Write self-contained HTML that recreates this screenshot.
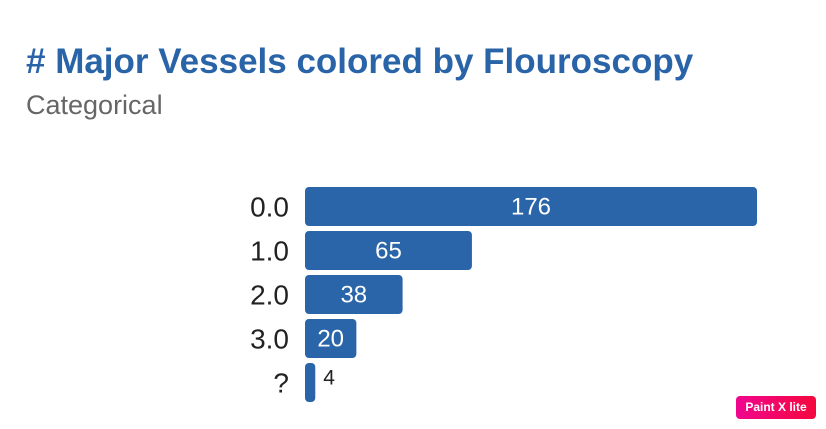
<!DOCTYPE html>
<html><head><meta charset="utf-8"><style>
body{margin:0;width:826px;height:429px;background:#fff;font-family:"Liberation Sans",sans-serif;overflow:hidden;position:relative}
#title{position:absolute;left:26px;top:42px;font-size:35px;font-weight:bold;color:#2a64a8;white-space:nowrap}
#sub{position:absolute;left:26px;top:90px;font-size:27px;color:#666}
#badge{position:absolute;left:736px;top:396px;width:80px;height:23px;border-radius:4px;background:linear-gradient(90deg,#f0068f,#f5073c);color:#fff;font-size:12px;font-weight:bold;text-align:center;line-height:23px}
</style></head><body>
<div id="title"># Major Vessels colored by Flouroscopy</div>
<div id="sub">Categorical</div>
<svg id="chart" width="826" height="429" style="position:absolute;left:0;top:0"></svg>
<div id="badge">Paint X lite</div>
<script>
const categories=["0.0","1.0","2.0","3.0","?"];
const values=[176,65,38,20,4];
const svg=document.getElementById('chart');
const NS='http://www.w3.org/2000/svg';
const x0=305,pxPer=452/176,y0=187,pitch=44,bh=39;
const x=v=>v*pxPer, y=i=>y0+i*pitch;
categories.forEach((c,i)=>{
  const w=x(values[i]);
  const r=document.createElementNS(NS,'rect');
  
  
  r.setAttribute('x',x0);r.setAttribute('y',y(i));r.setAttribute('width',w);r.setAttribute('height',bh);
  r.setAttribute('rx',4);r.setAttribute('fill','#2965a8');svg.appendChild(r);
  const t=document.createElementNS(NS,'text');
  
  
  t.setAttribute('x',289);t.setAttribute('y',y(i)+bh/2+10);t.setAttribute('text-anchor','end');
  t.setAttribute('font-size','28');t.setAttribute('fill','#222');t.textContent=c;svg.appendChild(t);
  const v=document.createElementNS(NS,'text');
  
  
  const inside=w>30;
  v.setAttribute('x',inside?x0+w/2:x0+w+8);v.setAttribute('y',y(i)+bh/2+8);
  v.setAttribute('text-anchor',inside?'middle':'start');
  v.setAttribute('font-size',inside?'24':'21');v.setAttribute('fill',inside?'#fff':'#222');
  if(!inside)v.setAttribute('dy','-6');
  v.textContent=values[i];svg.appendChild(v);
});
</script>
</body></html>
